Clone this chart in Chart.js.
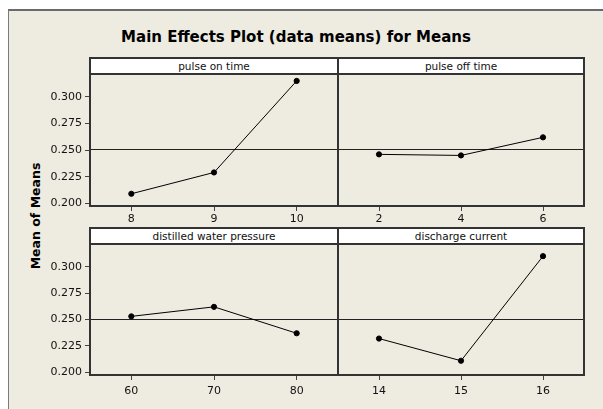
<!DOCTYPE html>
<html>
<head>
<meta charset="utf-8">
<script src="https://cdn.jsdelivr.net/npm/chart.js@4.4.0/dist/chart.umd.min.js"></script>
<style>
  body { margin:0; width:603px; height:409px; overflow:hidden; background:#fff; position:relative; font-family:"DejaVu Sans", sans-serif; }
  #frame { position:absolute; left:8px; top:9px; width:610px; height:420px; background:#eeebe1; border-top:2px solid #6a6a6a; border-left:1px solid #7a7a7a; }
  #title { position:absolute; left:0px; width:592px; top:28px; text-align:center; font-weight:bold; font-size:15px; color:#000; }
  #ylab { position:absolute; left:35px; top:216px; transform:translate(-50%,-50%) rotate(-90deg); font-weight:bold; font-size:12.5px; color:#000; white-space:nowrap; }
  .hdr { position:absolute; box-sizing:border-box; background:#fff; border:2px solid #333; font-size:10.5px; color:#111; text-align:center; line-height:14px; z-index:2; }
  canvas { position:absolute; }
</style>
</head>
<body>
<div id="frame"></div>
<div id="title">Main Effects Plot (data means) for Means</div>
<div id="ylab">Mean of Means</div>
<div class="hdr" id="h0" style="left:89px;top:57px;width:250px;height:18px;"></div>
<div class="hdr" id="h1" style="left:337px;top:57px;width:248px;height:18px;"></div>
<div class="hdr" id="h2" style="left:89px;top:227px;width:250px;height:18px;"></div>
<div class="hdr" id="h3" style="left:337px;top:227px;width:248px;height:18px;"></div>
<canvas id="c0" width="320" height="156" style="left:20px;top:74px;"></canvas>
<canvas id="c1" width="248" height="156" style="left:338px;top:74px;"></canvas>
<canvas id="c2" width="320" height="159" style="left:20px;top:244px;"></canvas>
<canvas id="c3" width="248" height="159" style="left:338px;top:244px;"></canvas>
<script>
// factor names and their levels
const factors = ['pulse on time', 'pulse off time', 'distilled water pressure', 'discharge current'];
const levelsOnTime = ['8', '9', '10'];
const levelsOffTime = ['2', '4', '6'];
const levelsPressure = ['60', '70', '80'];
const levelsCurrent = ['14', '15', '16'];

// means
const meansOnTime = [0.209, 0.229, 0.315];
const meansOffTime = [0.246, 0.245, 0.262];
const meansPressure = [0.253, 0.262, 0.237];
const meansCurrent = [0.232, 0.211, 0.310];

const yTicks = [0.200, 0.225, 0.250, 0.275, 0.300];
const grandMean = 0.2508;
const yMin = 0.1975, yMax = 0.3215;

const tickFont = { family: 'DejaVu Sans', size: 11 };

const panelFrame = {
  id: 'panelFrame',
  beforeDatasetsDraw(chart) {
    const ctx = chart.ctx, a = chart.chartArea;
    const yy = Math.round(chart.scales.y.getPixelForValue(grandMean)) + 0.5;
    ctx.save();
    ctx.strokeStyle = '#222';
    ctx.lineWidth = 1;
    ctx.beginPath();
    ctx.moveTo(a.left, yy);
    ctx.lineTo(a.right, yy);
    ctx.stroke();
    ctx.restore();
  },
  afterDraw(chart) {
    const ctx = chart.ctx, a = chart.chartArea;
    ctx.save();
    ctx.strokeStyle = '#333';
    ctx.lineWidth = 2;
    ctx.strokeRect(a.left, a.top, a.right - a.left, a.bottom - a.top);
    ctx.restore();
  }
};

function makePanel(id, labels, means, showY, xHeight, xPad) {
  new Chart(document.getElementById(id), {
    type: 'line',
    data: {
      labels: labels,
      datasets: [{
        data: means,
        borderColor: '#000',
        borderWidth: 1,
        tension: 0,
        pointRadius: 2.6,
        pointBackgroundColor: '#000',
        pointBorderColor: '#000',
        pointBorderWidth: 1
      }]
    },
    options: {
      responsive: false,
      animation: false,
      devicePixelRatio: 1,
      layout: { autoPadding: false, padding: { right: 2 } },
      plugins: { legend: { display: false }, tooltip: { enabled: false } },
      scales: {
        x: {
          type: 'category',
          offset: true,
          grid: { drawOnChartArea: false, drawTicks: true, tickLength: 5, color: '#444', offset: false },
          border: { display: false },
          ticks: { color: '#111', font: tickFont, padding: xPad, maxRotation: 0, autoSkip: false },
          afterFit: s => { s.height = xHeight; s.paddingLeft = 0; s.paddingRight = 0; }
        },
        y: {
          display: showY,
          min: yMin,
          max: yMax,
          afterBuildTicks: s => { s.ticks = yTicks.map(v => ({ value: v })); },
          grid: { drawOnChartArea: false, drawTicks: true, tickLength: 5, color: '#444' },
          border: { display: false },
          ticks: { color: '#111', font: tickFont, padding: 3, callback: v => Number(v).toFixed(3) },
          afterFit: s => { s.width = showY ? 70 : 0; s.paddingTop = 0; s.paddingBottom = 0; }
        }
      }
    },
    plugins: [panelFrame]
  });
}

['h0', 'h1', 'h2', 'h3'].forEach((h, i) => { document.getElementById(h).textContent = factors[i]; });

makePanel('c0', levelsOnTime, meansOnTime, true, 24, 2);
makePanel('c1', levelsOffTime, meansOffTime, false, 24, 2);
makePanel('c2', levelsPressure, meansPressure, true, 28, 5);
makePanel('c3', levelsCurrent, meansCurrent, false, 28, 5);
</script>
</body>
</html>
